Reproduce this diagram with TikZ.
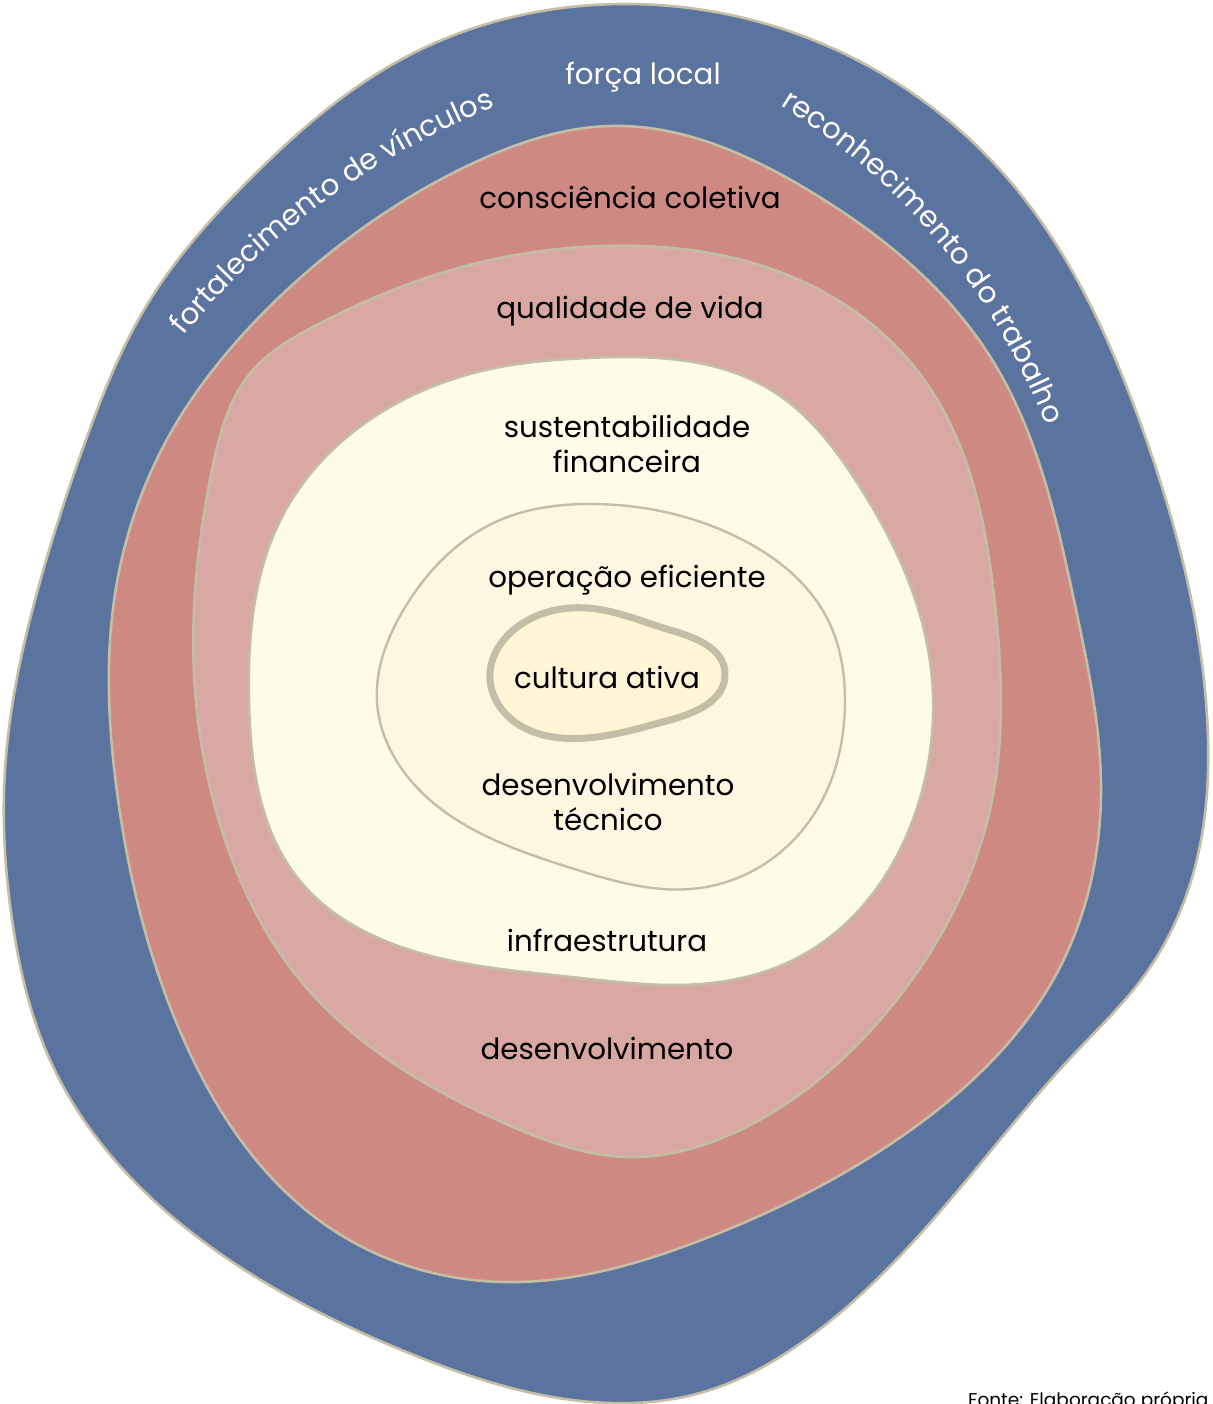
\documentclass[tikz,border=0pt]{standalone}
\usepackage{fontspec}
\setmainfont{Poppins}
\usetikzlibrary{decorations.text,hobby}

\definecolor{bandblue}{HTML}{5B739F}
\definecolor{bandred}{HTML}{CE8982}
\definecolor{bandpink}{HTML}{D9A8A2}
\definecolor{bandcream}{HTML}{FEFBE8}
\definecolor{bandinner}{HTML}{FDF7E1}
\definecolor{bandcore}{HTML}{FEF6D6}
\definecolor{rim}{HTML}{C4BEA6}

\begin{document}
\begin{tikzpicture}[x=1pt,y=1pt,
  layer/.style={draw=rim, line width=2.6pt, line join=round},
  lbl/.style={font=\fontsize{29.3}{34}\selectfont, inner sep=0pt, anchor=base, text=black},
  wlbl/.style={lbl, text=white}]
\useasboundingbox (0,0) rectangle (1212,-1404);
\fill[white] (0,0) rectangle (1212,-1404);

% outer band
\draw[layer, fill=bandblue] plot[closed hobby] coordinates {
  (621,-4) (808,-38) (1008,-179) (1141,-425) (1206,-702) (1191,-881)
  (1141,-980) (1075,-1053) (975,-1170) (808,-1338) (700,-1393) (610,-1403)
  (404,-1351) (200,-1239) (50,-1060) (13,-926) (5,-770) (35,-600)
  (83,-448) (150,-300) (250,-179) (404,-58)};

% second band
\draw[layer, fill=bandred] plot[closed hobby] coordinates {
  (611,-126) (808,-190) (991,-358) (1075,-605) (1101,-792) (1058,-971)
  (908,-1132) (704,-1239) (504,-1282) (333,-1230) (183,-1038) (117,-792)
  (117,-582) (180,-417) (247,-330) (360,-230) (480,-160)};

% third band
\draw[layer, fill=bandpink] plot[closed hobby] coordinates {
  (604,-246) (808,-284) (925,-381) (995,-605) (991,-805) (891,-1007)
  (740,-1130) (630,-1157) (504,-1123) (300,-980) (217,-814) (196,-702)
  (212,-470) (253,-370) (313,-327) (393,-290) (500,-258)};

% fourth band
\draw[layer, fill=bandcream] plot[closed hobby] coordinates {
  (587,-358) (771,-390) (858,-484) (928,-649) (915,-814) (808,-952)
  (720,-982) (571,-977) (404,-948) (300,-881) (249,-702) (283,-515)
  (380,-413) (500,-367)};

% fifth region
\draw[layer, line width=2.4pt, fill=bandinner] plot[closed hobby] coordinates {
  (587,-504) (737,-537) (828,-620) (845,-702) (808,-823) (700,-888)
  (571,-868) (404,-772) (377,-702) (404,-609) (500,-520)};

% core
\draw[layer, line width=7pt, fill=bandcore] plot[closed hobby] coordinates {
  (587,-608) (670,-630) (725,-673) (670,-720) (587,-738) (500,-707)
  (490,-673) (520,-625)};

% curved labels on the outer band
\path[decorate, decoration={text along path, text align=center,
  text={|\fontsize{29.3}{34}\selectfont\color{white}|fortalecimento de vínculos}}]
  (786,-828) ++(147.6:777.7pt) arc[start angle=147.6, end angle=105.1, radius=777.7pt];
\path[decorate, decoration={text along path, text align=center,
  text={|\fontsize{29.3}{34}\selectfont\color{white}|reconhecimento do trabalho}}]
  (439,-660) ++(64:650.8pt) arc[start angle=64, end angle=15.5, radius=650.8pt];

% straight labels
\node[wlbl] (forca) at (643,-85) {força local};
\node[lbl] (consc) at (630,-209) {consciência coletiva};
\node[lbl] (quali) at (630,-318) {qualidade de vida};
\node[lbl] (sust1) at (627,-437) {sustentabilidade};
\node[lbl] (sust2) at (627,-472) {financeira};
\node[lbl] (oper) at (627,-587) {operação eficiente};
\node[lbl] (cult) at (607,-688) {cultura ativa};
\node[lbl] (dtec1) at (608,-795) {desenvolvimento};
\node[lbl] (dtec2) at (608,-830) {técnico};
\node[lbl] (infra) at (607,-951) {infraestrutura};
\node[lbl] (desen) at (607,-1059) {desenvolvimento};

\node[font=\fontsize{18.5}{22}\selectfont, inner sep=0pt, anchor=base west] (fonte) at (968,-1406) {Fonte: Elaboração própria};
\end{tikzpicture}
\end{document}
